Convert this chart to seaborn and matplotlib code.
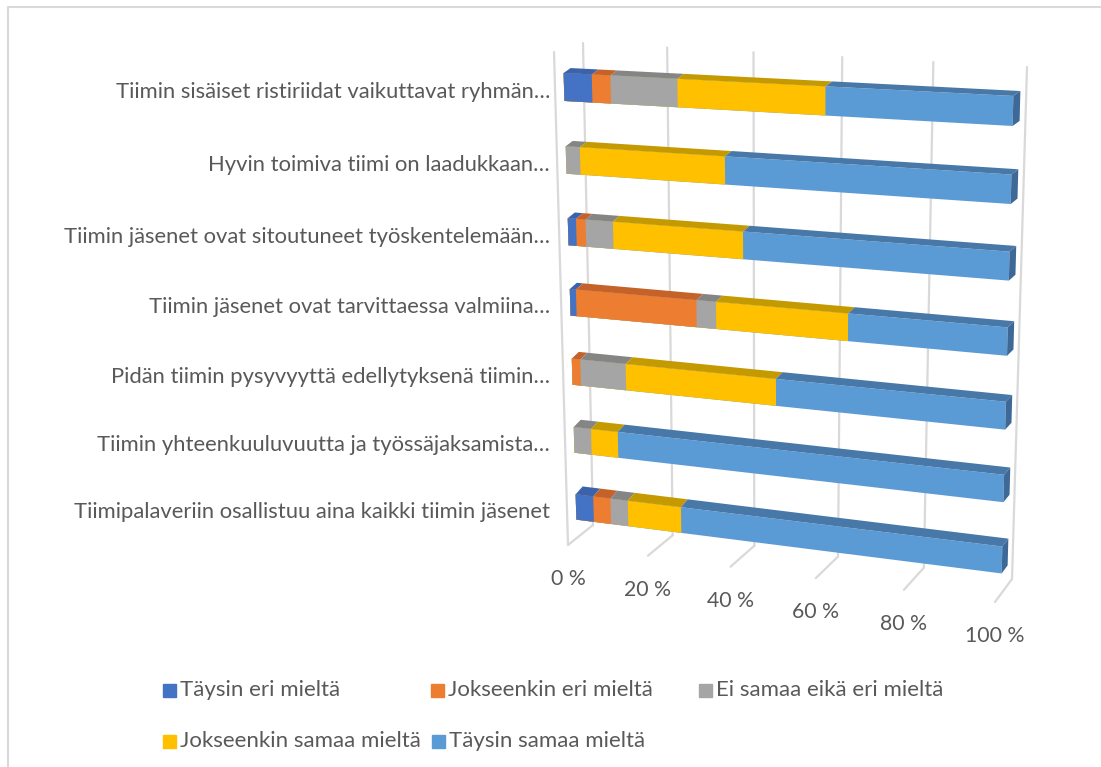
import numpy as np
import seaborn as sns
import matplotlib.pyplot as plt
import matplotlib.transforms as mtransforms
from matplotlib.patches import Rectangle

W, H = 1101, 767

# statements, top to bottom
statements = [
    "Tiimin sisäiset ristiriidat vaikuttavat ryhmän…",
    "Hyvin toimiva tiimi on laadukkaan…",
    "Tiimin jäsenet ovat sitoutuneet työskentelemään…",
    "Tiimin jäsenet ovat tarvittaessa valmiina…",
    "Pidän tiimin pysyvyyttä edellytyksenä tiimin…",
    "Tiimin yhteenkuuluvuutta ja työssäjaksamista…",
    "Tiimipalaveriin osallistuu aina kaikki tiimin jäsenet",
]
categories = ["Täysin eri mieltä", "Jokseenkin eri mieltä", "Ei samaa eikä eri mieltä",
              "Jokseenkin samaa mieltä", "Täysin samaa mieltä"]

# shares in percent
taysin_eri = [6.7, 0.0, 2.0, 1.5, 0.0, 0.0, 4.4]
jokseenkin_eri = [4.4, 0.0, 2.3, 28.9, 2.1, 0.0, 4.3]
ei_samaa_eika_eri = [15.6, 3.4, 6.6, 4.6, 11.1, 4.3, 4.3]
jokseenkin_samaa = [33.3, 34.0, 30.5, 30.2, 35.6, 6.6, 13.0]
taysin_samaa = [40.0, 62.6, 58.6, 34.8, 51.2, 89.1, 74.0]
tick_values = [0, 20, 40, 60, 80, 100]

series = [taysin_eri, jokseenkin_eri, ei_samaa_eika_eri, jokseenkin_samaa, taysin_samaa]
front_colors = ["#4472C4", "#ED7D31", "#A5A5A5", "#FFC000", "#5B9BD5"]
top_colors = ["#3B63AC", "#C4622A", "#858585", "#C49A00", "#4878A8"]
end_colors = ["#34579A", "#A85424", "#747474", "#A88400", "#3E6996"]
text_col = "#595959"
grid_col = "#D9D9D9"


def homography(src, dst):
    rows = []
    for (x, y), (X, Y) in zip(src, dst):
        rows.append([x, y, 1, 0, 0, 0, -X * x, -X * y, -X])
        rows.append([0, 0, 0, x, y, 1, -Y * x, -Y * y, -Y])
    _, _, vt = np.linalg.svd(np.array(rows, float))
    return vt[-1].reshape(3, 3)


def project(M, u, v):
    p = M @ np.array([u, v, 1.0])
    return p[0] / p[2], p[1] / p[2]


class Projective(mtransforms.Transform):
    input_dims = 2
    output_dims = 2
    is_separable = False
    has_inverse = False

    def __init__(self, M):
        super().__init__()
        self.M = M

    def transform_non_affine(self, values):
        v = np.asarray(values, float)
        p = np.column_stack([v, np.ones(len(v))]) @ self.M.T
        return p[:, :2] / p[:, 2:3]


# perspective of the 3-D Excel chart (data units -> image pixels)
corners = [(0, 0), (100, 0), (0, 6), (100, 6)]
M_front = homography(corners, [(564, 87), (1013, 111), (576, 507), (1002, 560)])
M_back = homography(corners, [(571, 82), (1020, 106), (583, 499), (1008, 552)])
M_wall = homography([(0, 0), (100, 0), (0, 1), (100, 1)],
                    [(583, 43), (1027, 67), (593, 525), (1012, 579)])
M_floor = homography([(0, 0), (100, 0), (0, 1), (100, 1)],
                     [(593, 525), (1012, 579), (568, 545), (995, 602)])

sns.set_theme(style="white")
plt.rcParams["font.family"] = ["Lato", "DejaVu Sans"]

fig = plt.figure(figsize=(W / 100, H / 100), dpi=100)
ax = fig.add_axes([0, 0, 1, 1])
ax.set_axis_off()
px = mtransforms.Affine2D().scale(1 / W, -1 / H).translate(0, 1) + fig.transFigure

# back wall gridlines, left edge and floor lines
for t in tick_values:
    x0, y0 = project(M_wall, t, 0)
    x1, y1 = project(M_wall, t, 1)
    ax.plot([x0, x1], [y0, y1], color=grid_col, lw=1.6, transform=px, clip_on=False, zorder=0)
    fx, fy = project(M_floor, t, 1)
    ax.plot([x1, fx], [y1, fy], color=grid_col, lw=1.6, transform=px, clip_on=False, zorder=0)
    ax.text(fx, fy + 34, f"{t} %", ha="center", va="center", fontsize=15.3,
            color=text_col, transform=px)
ax.plot([554, 568], [52, 545], color=grid_col, lw=1.6, transform=px, clip_on=False, zorder=0)

# stacked bars (front faces) with seaborn, then put into perspective
bar_h = 0.38
cum = np.cumsum(np.array(series), axis=0)
for k in range(len(series) - 1, -1, -1):
    sns.barplot(x=cum[k], y=statements, orient="h", color=front_colors[k], saturation=1,
                width=bar_h, errorbar=None, ax=ax, linewidth=0)
front = Projective(M_front) + px
for p in ax.patches:
    p.set_transform(front)
    p.set_clip_on(False)
    p.set_zorder(2)

# top and end faces
for i in range(len(statements)):
    top = i - bar_h / 2
    bottom = i + bar_h / 2
    left = 0.0
    last = 0
    for k in range(len(series)):
        right = cum[k][i]
        if right - left > 0:
            pts = [project(M_front, left, top), project(M_front, right, top),
                   project(M_back, right, top), project(M_back, left, top)]
            ax.fill(*zip(*pts), color=top_colors[k], lw=0, transform=px, clip_on=False, zorder=2)
            last = k
        left = right
    pts = [project(M_front, 100, top), project(M_back, 100, top),
           project(M_back, 100, bottom), project(M_front, 100, bottom)]
    ax.fill(*zip(*pts), color=end_colors[last], lw=0, transform=px, clip_on=False, zorder=2)
    lx, ly = project(M_front, 0, i)
    ax.text(550, ly + 5, statements[i], ha="right", va="center", fontsize=15.8,
            color=text_col, transform=px)

# legend
legend_pos = [(163, 690), (431, 690), (699, 690), (163, 741), (432, 741)]
for (lx, ly), name, c in zip(legend_pos, categories, front_colors):
    fig.patches.append(Rectangle((lx, ly - 6.5), 13, 13, color=c, transform=px))
    fig.text(lx + 17, ly, name, ha="left", va="center", fontsize=16, color=text_col,
             transform=px)

# chart frame (top and left edges)
ax.plot([8, W], [7, 7], color=grid_col, lw=1.5, transform=px, clip_on=False)
ax.plot([8, 8], [7, H], color=grid_col, lw=1.5, transform=px, clip_on=False)

fig.savefig("out.png", dpi=100)
